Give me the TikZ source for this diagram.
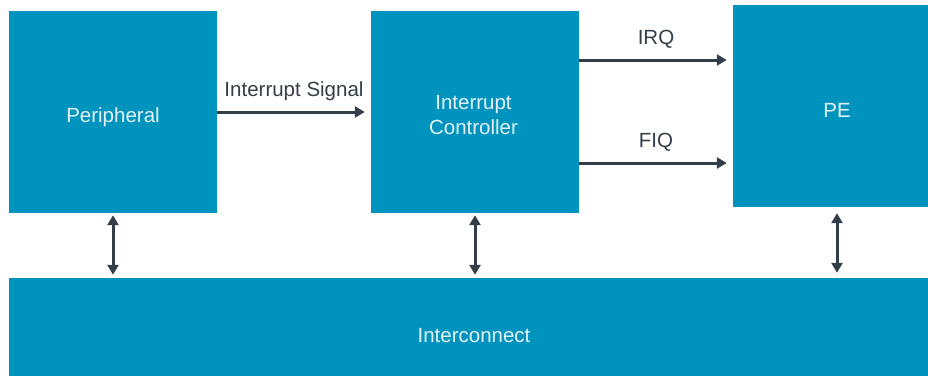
\documentclass[tikz,border=0pt]{standalone}
\usepackage{fontspec}
\setmainfont{Liberation Sans}
\usetikzlibrary{arrows.meta}
\definecolor{boxblue}{RGB}{0,147,189}
\definecolor{boxtext}{RGB}{228,242,247}
\definecolor{wire}{RGB}{52,62,72}

\begin{document}
\begin{tikzpicture}[x=1pt,y=1pt,
        block/.style={fill=boxblue,inner sep=0pt,minimum width=208pt,minimum height=202pt},
        intext/.style={text=boxtext,inner sep=0pt,align=center,font=\fontsize{20.5}{25}\selectfont},
        sig/.style={draw=wire,line width=3pt,-{Triangle[length=10pt,width=11pt]}},
        link/.style={draw=wire,line width=3pt,{Triangle[length=10pt,width=11pt]}-{Triangle[length=10pt,width=11pt]}},
        lbl/.style={text=wire,font=\fontsize{20.5}{25}\selectfont}]
                \useasboundingbox (0,0) rectangle (928,376);
                \node[block,label={[intext,yshift=-5pt]center:Peripheral}] (periph) at (113,264) {};
                \node[block,label={[intext,yshift=-3.5pt,xshift=-1.5pt]center:Interrupt\\Controller}] (ic) at (475,264) {};
                \node[block,minimum width=195pt,label={[intext,yshift=-4pt,xshift=6.5pt]center:PE}] (pe) at (830.5,270) {};
                \node[block,minimum width=919pt,minimum height=98pt,label={[intext,yshift=-8.5pt,xshift=5.5pt]center:Interconnect}] (bus) at (468.5,49) {};
                \coordinate (irq) at ([yshift=52pt]ic.east);
                \coordinate (fiq) at ([yshift=-51pt]ic.east);
                \coordinate (pedown) at ([xshift=6.5pt]pe.south);
                \draw[sig,shorten >=6pt] (periph.east) -- node[lbl,above=6pt] {Interrupt Signal} (ic.west);
                \draw[sig,shorten >=6pt] (irq) -- node[lbl,above=7pt] {IRQ} (irq -| pe.west);
                \draw[sig,shorten >=6pt] (fiq) -- node[lbl,above=7pt] {FIQ} (fiq -| pe.west);
                \draw[link,shorten <=2pt,shorten >=3pt] (periph.south) -- (periph.south |- bus.north);
                \draw[link,shorten <=2pt,shorten >=3pt] (ic.south) -- (ic.south |- bus.north);
                \draw[link,shorten <=6pt,shorten >=5pt] (pedown) -- (pedown |- bus.north);
            \end{tikzpicture}
\end{document}
